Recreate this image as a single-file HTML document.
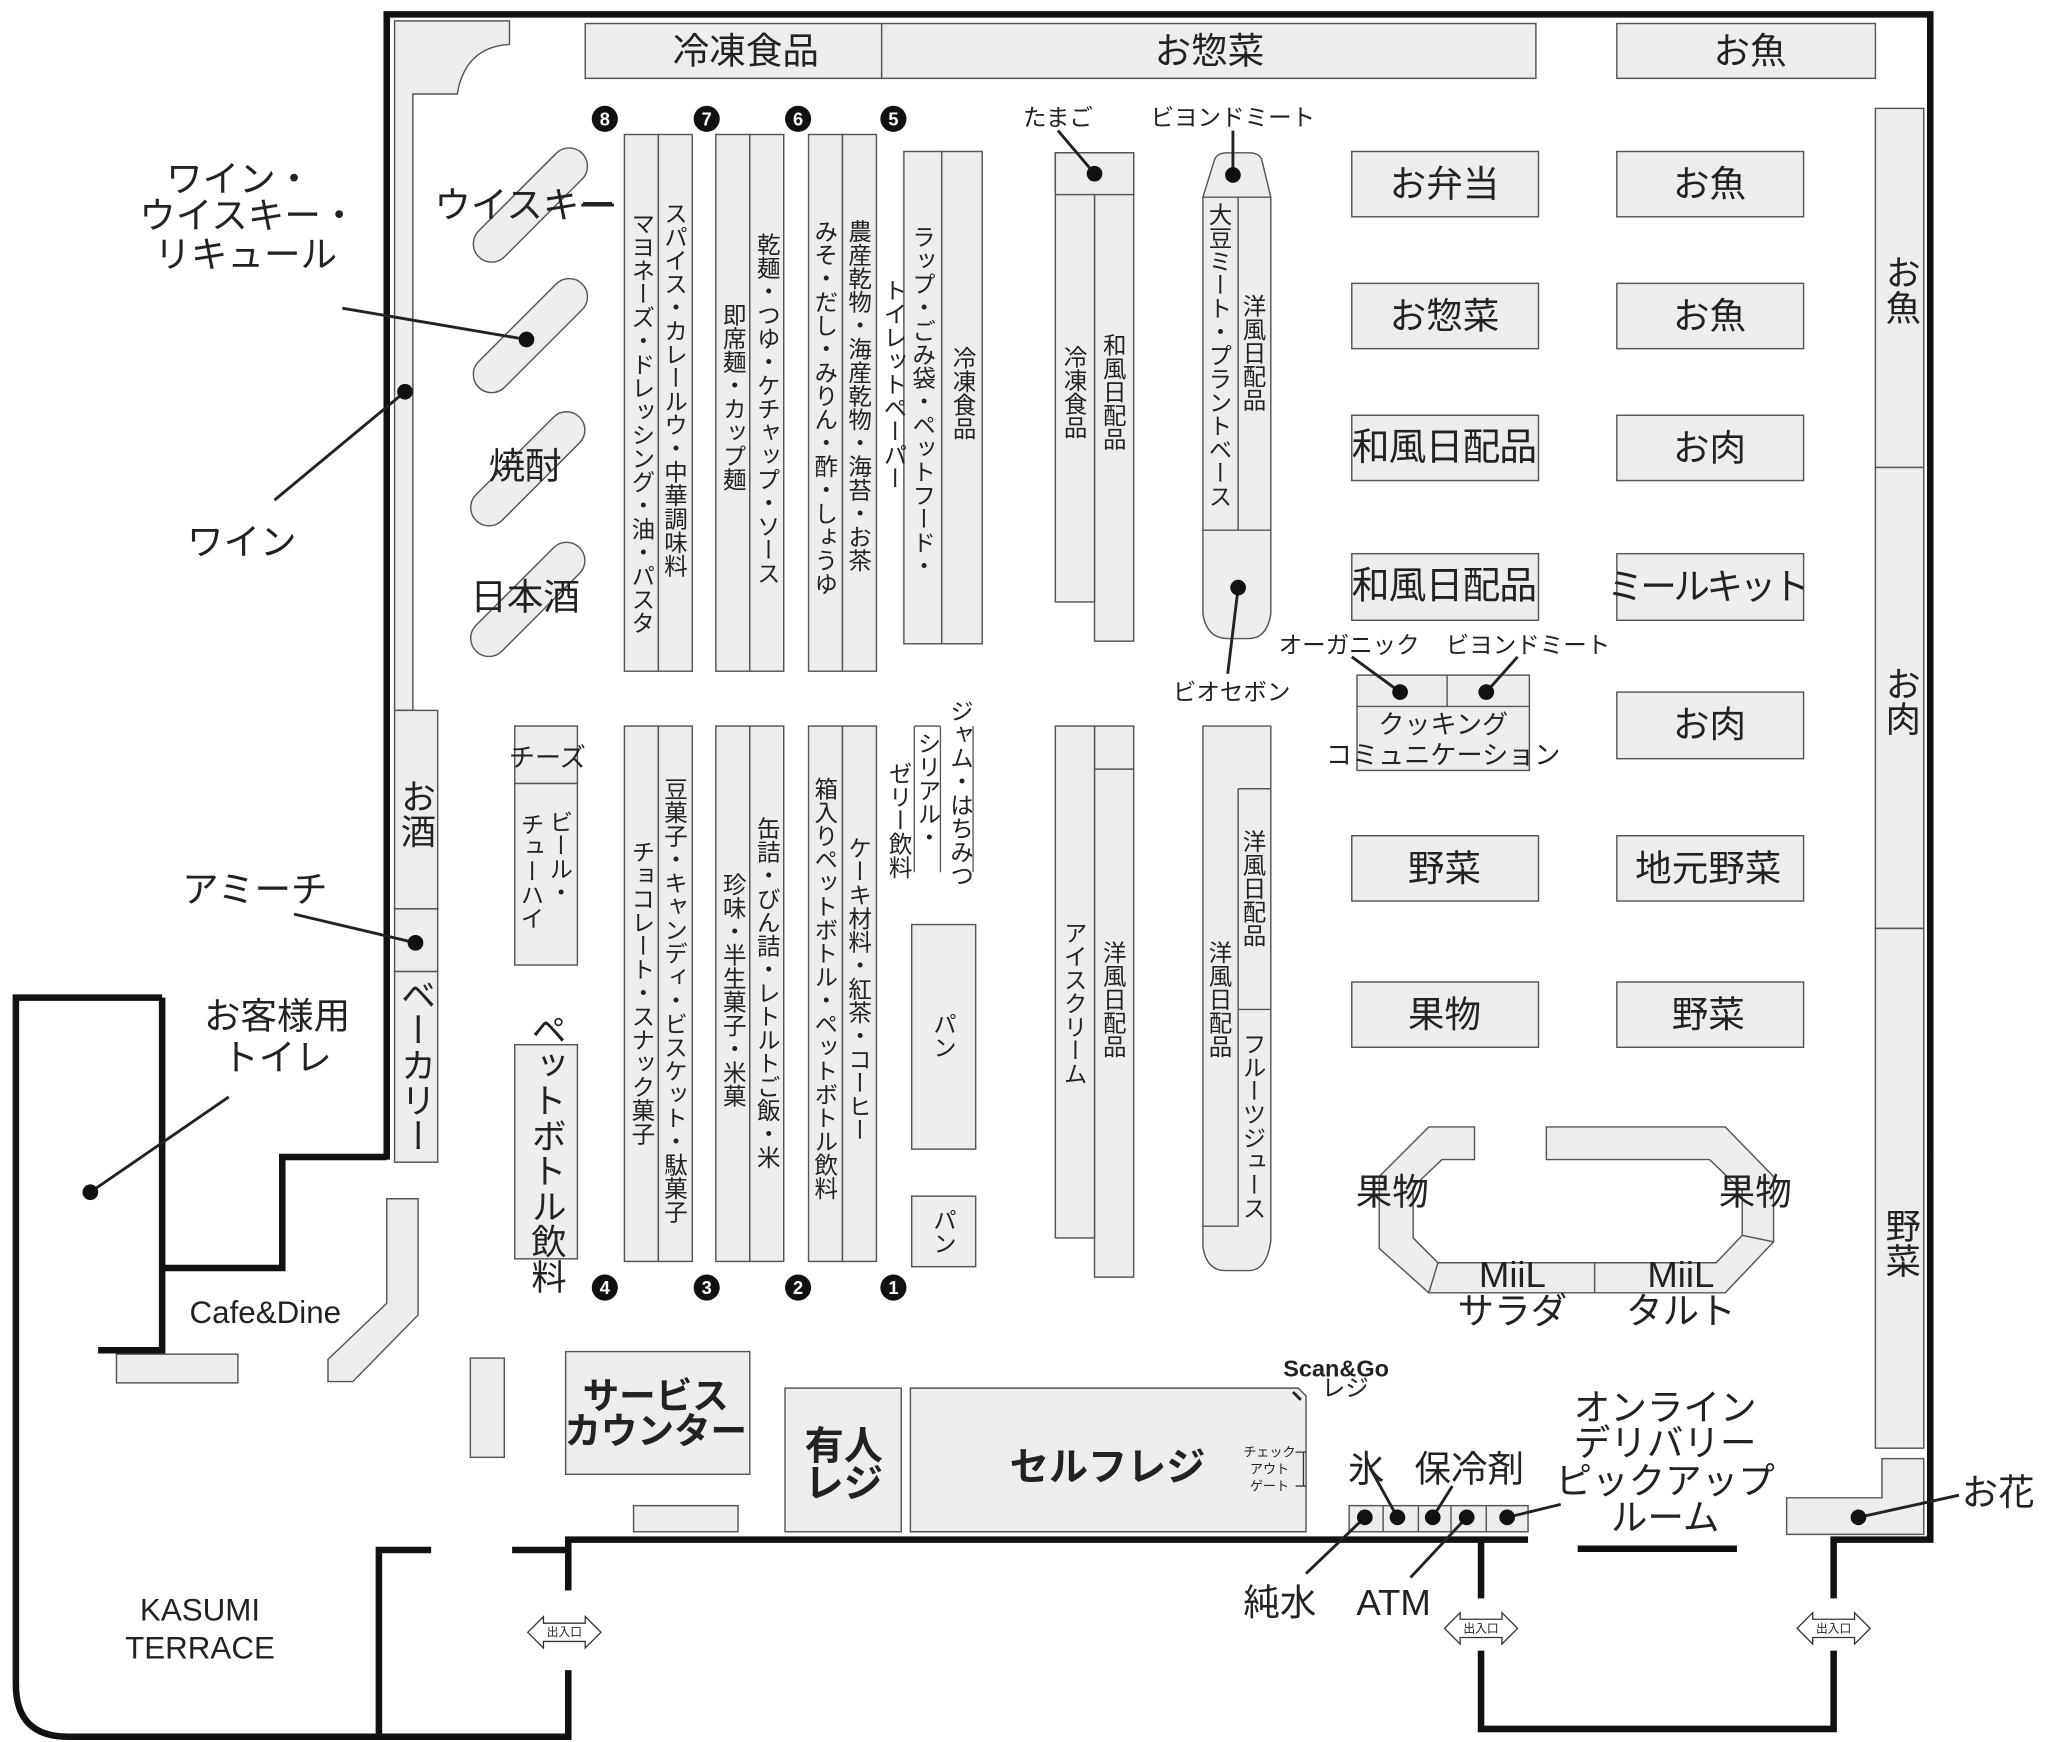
<!DOCTYPE html>
<html><head><meta charset="utf-8"><style>
html,body{margin:0;padding:0;background:#fff;}
svg{display:block;}
text{font-family:"Liberation Sans","Noto Sans CJK JP",sans-serif;fill:#222;}
.v{writing-mode:vertical-rl;}
.f{fill:#eceeed;stroke:#555;stroke-width:1.1;}
.w{fill:none;stroke:#111;stroke-width:5;}
.l{fill:none;stroke:#222;stroke-width:2.2;}
</style></head><body>
<svg width="2048" height="1742" viewBox="0 0 1568 1334" xmlns="http://www.w3.org/2000/svg">
<rect width="1568" height="1334" fill="#fff"/>
<!-- walls -->
<path class="w" d="M296,888 L296,11 L1478,11 L1478,1179 L1404,1179 L1404,1224 M1404,1264 L1404,1324 L1134,1324 L1134,1264 M1134,1224 L1134,1179"/>
<path class="w" d="M296,886 L216,886 L216,971 L124,971 M124,764 L12,764 L12,1290 Q12,1330 52,1330 L435,1330 L435,1279 M435,1218 L435,1179 L1170,1179"/>
<path class="w" d="M124,764 L124,1034 L75,1034"/>
<path class="w" d="M290,1330 L290,1187 L330,1187 M392,1187 L435,1187"/>
<path class="w" d="M1208,1186 L1330,1186"/>
<!-- doors -->
<g font-size="9" text-anchor="middle">
<path d="M404,1250 L416,1238 L416,1243 L448,1243 L448,1238 L460,1250 L448,1262 L448,1257 L416,1257 L416,1262 Z" fill="#fff" stroke="#333" stroke-width="1"/><text x="432" y="1253">出入口</text>
<path d="M1106,1247 L1118,1235 L1118,1240 L1150,1240 L1150,1235 L1162,1247 L1150,1259 L1150,1254 L1118,1254 L1118,1259 Z" fill="#fff" stroke="#333" stroke-width="1"/><text x="1134" y="1250">出入口</text>
<path d="M1376,1247 L1388,1235 L1388,1240 L1420,1240 L1420,1235 L1432,1247 L1420,1259 L1420,1254 L1388,1254 L1388,1259 Z" fill="#fff" stroke="#333" stroke-width="1"/><text x="1404" y="1250">出入口</text>
</g>
<!-- top row -->
<rect class="f" x="448" y="18" width="227" height="42"/>
<rect class="f" x="675" y="18" width="501" height="42"/>
<rect class="f" x="1238" y="18" width="198" height="42"/>
<!-- right column -->
<rect class="f" x="1436" y="83" width="37" height="275"/>
<rect class="f" x="1436" y="358" width="37" height="353"/>
<rect class="f" x="1436" y="711" width="37" height="398"/>
<path class="f" d="M1441,1117 L1473,1117 L1473,1175 L1368,1175 L1368,1147 L1441,1147 Z"/>
<!-- left strip -->
<path class="f" d="M302,16 L390,16 L390,34 Q356,36 350,72 L316,72 L316,544 L302,544 Z"/>
<rect class="f" x="302" y="544" width="33" height="152"/>
<rect class="f" x="302" y="696" width="33" height="48"/>
<rect class="f" x="302" y="744" width="33" height="146"/>
<!-- whisky capsules -->
<g class="f">
<rect x="350" y="143" width="112" height="28" rx="14" transform="rotate(-45 406 157)"/>
<rect x="350" y="243" width="112" height="28" rx="14" transform="rotate(-45 406 257)"/>
<rect x="348" y="345" width="112" height="28" rx="14" transform="rotate(-45 404 359)"/>
<rect x="348" y="445" width="112" height="28" rx="14" transform="rotate(-45 404 459)"/>
</g>
<!-- upper aisles -->
<g class="f">
<rect x="478" y="103" width="26" height="411"/><rect x="504" y="103" width="26" height="411"/>
<rect x="548" y="103" width="26" height="411"/><rect x="574" y="103" width="26" height="411"/>
<rect x="619" y="103" width="26" height="411"/><rect x="645" y="103" width="26" height="411"/>
<rect x="692" y="116" width="29" height="377"/><rect x="721" y="116" width="31" height="377"/>
<rect x="838" y="117" width="30" height="374"/><rect x="808" y="117" width="30" height="344"/>
<rect x="808" y="117" width="60" height="32"/>
<path d="M921,151 L930,122 Q932,117 940,117 L956,117 Q964,117 966,122 L973,151 L973,406 L973,470 Q970,489 956,489 L940,489 Q924,489 921,470 Z"/>
<line x1="921" y1="151" x2="973" y2="151"/><line x1="921" y1="406" x2="973" y2="406"/><line x1="948" y1="151" x2="948" y2="406"/>
</g>
<!-- lower aisles -->
<g class="f">
<rect x="478" y="556" width="26" height="410"/><rect x="504" y="556" width="26" height="410"/>
<rect x="548" y="556" width="26" height="410"/><rect x="574" y="556" width="26" height="410"/>
<rect x="619" y="556" width="26" height="410"/><rect x="645" y="556" width="26" height="410"/>
<rect x="394" y="556" width="48" height="44"/><rect x="394" y="600" width="48" height="139"/>
<rect x="394" y="800" width="48" height="164"/>
<rect x="698" y="708" width="49" height="172"/><rect x="698" y="916" width="49" height="54"/>
<rect x="838" y="556" width="30" height="422"/><rect x="808" y="556" width="30" height="392"/>
<line x1="838" y1="589" x2="868" y2="589"/>
<path d="M921,556 L973,556 L973,950 Q970,973 956,973 L938,973 Q924,973 921,955 Z"/>
<line x1="948" y1="604" x2="948" y2="939"/><line x1="948" y1="604" x2="973" y2="604"/><line x1="948" y1="773" x2="973" y2="773"/><line x1="921" y1="939" x2="948" y2="939"/>
</g>
<path d="M700,556 L700,668 M720,556 L720,668 M745,556 L745,668 M700,556 L720,556" fill="none" stroke="#555" stroke-width="1"/>
<!-- produce boxes -->
<g class="f">
<rect x="1035" y="116" width="143" height="50"/><rect x="1238" y="116" width="143" height="50"/>
<rect x="1035" y="217" width="143" height="50"/><rect x="1238" y="217" width="143" height="50"/>
<rect x="1035" y="318" width="143" height="50"/><rect x="1238" y="318" width="143" height="50"/>
<rect x="1035" y="424" width="143" height="51"/><rect x="1238" y="424" width="143" height="51"/>
<rect x="1238" y="530" width="143" height="51"/>
<rect x="1035" y="640" width="143" height="50"/><rect x="1238" y="640" width="143" height="50"/>
<rect x="1035" y="752" width="143" height="50"/><rect x="1238" y="752" width="143" height="50"/>
<rect x="1039" y="517" width="132" height="73"/>
<path d="M1094,863 L1129,863 L1129,888 L1104,888 L1082,909 L1082,948 L1101,967 L1221,967 L1221,990 L1094,990 L1056,956 L1056,901 Z"/>
<path d="M1184,863 L1321,863 L1358,901 L1358,951 L1321,990 L1221,990 L1221,967 L1314,967 L1334,946 L1334,912 L1309,888 L1184,888 Z"/>
<path d="M433,1035 L574,1035 L574,1129 L433,1129 Z"/>
<rect x="485" y="1153" width="80" height="20"/>
<rect x="360" y="1040" width="26" height="76"/>
<path d="M296,918 L320,918 L320,1007 L270,1058 L251,1058 L251,1041 L296,998 Z"/>
<rect x="89" y="1037" width="93" height="22"/>
<rect x="601" y="1063" width="89" height="110"/>
<path d="M697,1063 L994,1063 L1000,1069 L1000,1173 L697,1173 Z"/>
<rect x="1033" y="1153" width="137" height="20"/>
</g>
<path d="M1039,541 L1171,541 M1108,517 L1108,541 M1101,967 L1094,990 M1334,946 L1358,951 M1059,1153 L1059,1173 M1086,1153 L1086,1173 M1111,1153 L1111,1173 M1138,1153 L1138,1173" fill="none" stroke="#555" stroke-width="1.1"/>
<!-- aisle numbers -->
<g>
<circle cx="463" cy="91" r="10" fill="#111"/><circle cx="541" cy="91" r="10" fill="#111"/><circle cx="611" cy="91" r="10" fill="#111"/><circle cx="684" cy="91" r="10" fill="#111"/>
<circle cx="463" cy="986" r="10" fill="#111"/><circle cx="541" cy="986" r="10" fill="#111"/><circle cx="611" cy="986" r="10" fill="#111"/><circle cx="684" cy="986" r="10" fill="#111"/>
</g>
<g font-size="14" font-weight="bold" text-anchor="middle" style="fill:#fff">
<text x="463" y="96" style="fill:#fff">8</text><text x="541" y="96" style="fill:#fff">7</text><text x="611" y="96" style="fill:#fff">6</text><text x="684" y="96" style="fill:#fff">5</text>
<text x="463" y="991" style="fill:#fff">4</text><text x="541" y="991" style="fill:#fff">3</text><text x="611" y="991" style="fill:#fff">2</text><text x="684" y="991" style="fill:#fff">1</text>
</g>
<!-- leaders & dots -->
<path class="l" d="M262,236 L403,260 M210,383 L310,300 M225,700 L318,722 M175,840 L69,913 M445,157 L470,157 M810,100 L838,133 M944,100 L944,134 M948,450 L940,516 M1035,503 L1072,530 M1162,503 L1138,530 M1049,1124 L1070,1162 M1112,1138 L1097,1162 M1045,1162 L1000,1205 M1123,1162 L1080,1208 M1154,1162 L1195,1152 M1423,1162 L1500,1145 M990,1066 L996,1072"/>
<g fill="#111">
<circle cx="403" cy="260" r="6"/><circle cx="310" cy="300" r="6"/><circle cx="318" cy="722" r="6"/><circle cx="69" cy="913" r="6"/>
<circle cx="838" cy="133" r="6"/><circle cx="944" cy="134" r="6"/><circle cx="948" cy="450" r="6"/><circle cx="1072" cy="530" r="6"/><circle cx="1138" cy="530" r="6"/>
<circle cx="1045" cy="1162" r="6"/><circle cx="1070" cy="1162" r="6"/><circle cx="1097" cy="1162" r="6"/><circle cx="1123" cy="1162" r="6"/><circle cx="1154" cy="1162" r="6"/><circle cx="1423" cy="1162" r="6"/>
</g>
<!-- horizontal labels -->
<g font-size="28" text-anchor="middle" dominant-baseline="central">
<text x="571" y="39">冷凍食品</text><text x="926" y="39">お惣菜</text><text x="1340" y="39">お魚</text>
<text x="1106" y="141">お弁当</text><text x="1309" y="141">お魚</text>
<text x="1106" y="242">お惣菜</text><text x="1309" y="242">お魚</text>
<text x="1106" y="343" font-size="29" textLength="142">和風日配品</text><text x="1309" y="343">お肉</text>
<text x="1106" y="449" font-size="29" textLength="142">和風日配品</text><text x="1308" y="449" textLength="155">ミールキット</text>
<text x="1309" y="555">お肉</text>
<text x="1106" y="665">野菜</text><text x="1308" y="665">地元野菜</text>
<text x="1106" y="777">果物</text><text x="1308" y="777">野菜</text>
<text x="1066" y="913">果物</text><text x="1344" y="913">果物</text>
<text x="1158" y="976">MiiL</text><text x="1158" y="1004">サラダ</text>
<text x="1287" y="976">MiiL</text><text x="1287" y="1004">タルト</text>
<text x="502" y="1069" font-weight="bold">サービス</text><text x="502" y="1096" font-weight="bold">カウンター</text>
<text x="646" y="1108" font-size="30" font-weight="bold">有人</text><text x="646" y="1137" font-size="30" font-weight="bold">レジ</text>
<text x="848" y="1124" font-size="30" font-weight="bold">セルフレジ</text>
<text x="183" y="137">ワイン・</text><text x="190" y="165">ウイスキー・</text><text x="188" y="195">リキュール</text>
<text x="402" y="157">ウイスキー</text><text x="402" y="357">焼酎</text><text x="402" y="457">日本酒</text>
<text x="185" y="415">ワイン</text><text x="195" y="681">アミーチ</text>
<text x="212" y="778">お客様用</text><text x="212" y="810">トイレ</text>
<text x="1046" y="1125">氷</text><text x="1125" y="1125">保冷剤</text>
<text x="980" y="1227">純水</text><text x="1067" y="1227">ATM</text>
<text x="1275" y="1078">オンライン</text><text x="1275" y="1105">デリバリー</text><text x="1275" y="1134">ピックアップ</text><text x="1275" y="1162">ルーム</text>
<text x="1530" y="1143">お花</text>
</g>
<g font-size="24" text-anchor="middle" dominant-baseline="central">
<text x="203" y="1005">Cafe&amp;Dine</text><text x="153" y="1233">KASUMI</text><text x="153" y="1262">TERRACE</text>
</g>
<g font-size="18" text-anchor="middle" dominant-baseline="central">
<text x="810" y="90">たまご</text><text x="944" y="90">ビヨンドミート</text>
<text x="1033" y="494">オーガニック</text><text x="1170" y="494">ビヨンドミート</text><text x="943" y="530">ビオセボン</text>
<text x="1105" y="555" font-size="20">クッキング</text><text x="1105" y="578" font-size="20">コミュニケーション</text>
<text x="419" y="580" font-size="20">チーズ</text>
<text x="1023" y="1048" font-weight="bold">Scan&amp;Go</text><text x="1030" y="1063">レジ</text>
</g>
<g font-size="10" text-anchor="middle" dominant-baseline="central">
<text x="972" y="1112">チェック</text><text x="972" y="1125">アウト</text><text x="972" y="1138">ゲート</text>
</g>
<path d="M992,1112 L1000,1112 M992,1138 L1000,1138 M998,1112 L998,1138" stroke="#333" stroke-width="1" fill="none"/>
<!-- vertical labels -->
<g font-size="18" class="v">
<text class="v" x="491" y="162">マヨネーズ・ドレッシング・油・パスタ</text>
<text class="v" x="516" y="154">スパイス・カレールウ・中華調味料</text>
<text class="v" x="561" y="232">即席麺・カップ麺</text>
<text class="v" x="587" y="178">乾麺・つゆ・ケチャップ・ソース</text>
<text class="v" x="631" y="168">みそ・だし・みりん・酢・しょうゆ</text>
<text class="v" x="657" y="168">農産乾物・海産乾物・海苔・お茶</text>
<text class="v" x="684" y="213">トイレットペーパー</text>
<text class="v" x="706" y="172">ラップ・ごみ袋・ペットフード・</text>
<text class="v" x="737" y="265">冷凍食品</text>
<text class="v" x="822" y="264">冷凍食品</text>
<text class="v" x="852" y="255">和風日配品</text>
<text class="v" x="933" y="155">大豆ミート・プラントベース</text>
<text class="v" x="959" y="225">洋風日配品</text>
<text class="v" x="428" y="620">ビール・</text>
<text class="v" x="406" y="622">チューハイ</text>
<text class="v" x="491" y="643">チョコレート・スナック菓子</text>
<text class="v" x="516" y="595">豆菓子・キャンディ・ビスケット・駄菓子</text>
<text class="v" x="561" y="668">珍味・半生菓子・米菓</text>
<text class="v" x="587" y="625">缶詰・びん詰・レトルトご飯・米</text>
<text class="v" x="631" y="595">箱入りペットボトル・ペットボトル飲料</text>
<text class="v" x="657" y="640">ケーキ材料・紅茶・コーヒー</text>
<text class="v" x="688" y="583">ゼリー飲料</text>
<text class="v" x="710" y="560">シリアル・</text>
<text class="v" x="735" y="535">ジャム・はちみつ</text>
<text class="v" x="722" y="775">パン</text>
<text class="v" x="722" y="925">パン</text>
<text class="v" x="822" y="705">アイスクリーム</text>
<text class="v" x="852" y="720">洋風日配品</text>
<text class="v" x="959" y="635">洋風日配品</text>
<text class="v" x="933" y="720">洋風日配品</text>
<text class="v" x="959" y="790">フルーツジュース</text>
</g>
<g font-size="27">
<text class="v" x="418" y="775">ペットボトル飲料</text>
<text class="v" x="1455" y="195">お魚</text>
<text class="v" x="1455" y="510">お肉</text>
<text class="v" x="1455" y="925">野菜</text>
<text class="v" x="318" y="596">お酒</text>
<text class="v" x="318" y="748">ベーカリー</text>
</g>
</svg>
</body></html>
